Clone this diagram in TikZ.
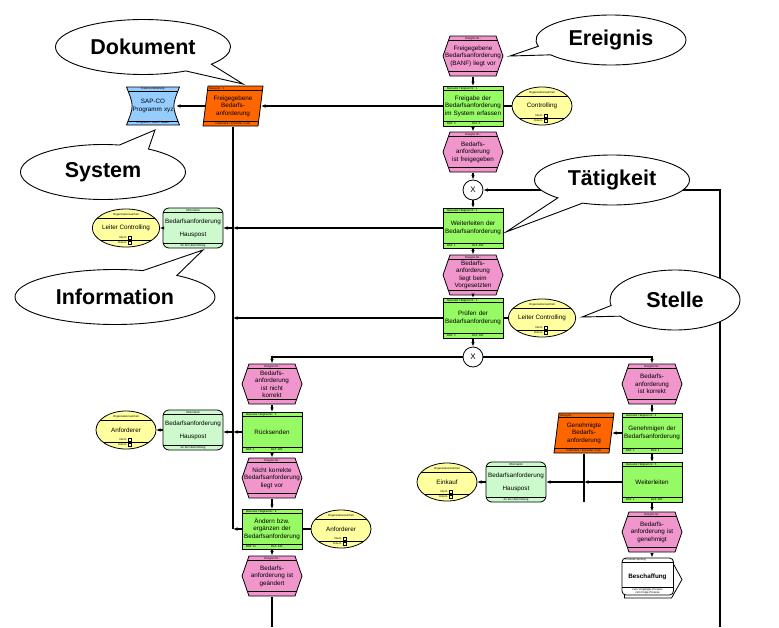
\documentclass[tikz,border=0pt]{standalone}
\usepackage{fontspec}
\setmainfont{Liberation Sans}
\usetikzlibrary{shapes.geometric, shapes.callouts, arrows.meta}

\definecolor{epink}{RGB}{240,150,205}
\definecolor{fgreen}{RGB}{150,250,100}
\definecolor{oyellow}{RGB}{255,255,160}
\definecolor{igreen}{RGB}{205,250,205}
\definecolor{dorange}{RGB}{255,102,0}
\definecolor{sblue}{RGB}{150,205,255}

\newcommand{\ppb}{path picture bounding box}
\newcommand{\mainfnt}{\fontsize{6.3}{7.5}\selectfont}
\newcommand{\tinyfnt}{\fontsize{2.8}{3.2}\selectfont}

\tikzset{
  tinytext/.style={font=\tinyfnt, shape=rectangle, inner sep=0pt, outer sep=0pt,
    minimum width=0pt, minimum height=0pt, text width={}, align=center},
  basis/.style={minimum width=60pt, minimum height=40pt, inner sep=0pt, outer sep=0pt,
    align=center, font=\mainfnt, text width=58pt},
  bands/.style={line width=.6pt, sharp corners},
  ereignis/.style={basis, minimum width=61pt, minimum height=41pt,
    path picture={
      \coordinate (h1) at ([xshift=7.5pt,yshift=-.5pt]\ppb.north west);
      \coordinate (h2) at ([xshift=-7.5pt,yshift=-.5pt]\ppb.north east);
      \coordinate (h3) at ([xshift=-.5pt]\ppb.east);
      \coordinate (h4) at ([xshift=-7.5pt,yshift=.5pt]\ppb.south east);
      \coordinate (h5) at ([xshift=7.5pt,yshift=.5pt]\ppb.south west);
      \coordinate (h6) at ([xshift=.5pt]\ppb.west);
      \filldraw[fill=epink, line width=.8pt] (h1) -- (h2) -- (h3) -- (h4) -- (h5) -- (h6) -- cycle;
      \clip (h1) -- (h2) -- (h3) -- (h4) -- (h5) -- (h6) -- cycle;
      \draw[bands] ([yshift=-5pt]\ppb.north west) -- ([yshift=-5pt]\ppb.north east)
        ([yshift=5pt]\ppb.south west) -- ([yshift=5pt]\ppb.south east);
      \node[tinytext] at ([yshift=-2.9pt]\ppb.north) {Ereignis Nr.:};
    }},
  funktion/.style n args={3}{basis, draw, line width=.8pt, fill=fgreen,
    path picture={
      \draw[bands] ([yshift=-4.5pt]\ppb.north west) -- ([yshift=-4.5pt]\ppb.north east)
        ([yshift=4.5pt]\ppb.south west) -- ([yshift=4.5pt]\ppb.south east);
      \node[tinytext, anchor=west] at ([xshift=4pt,yshift=-2.4pt]\ppb.north west) {Manuelle Tätigkeit Nr.: #1};
      \node[tinytext, anchor=west] at ([xshift=4pt,yshift=2.4pt]\ppb.south west) {BAZ: #2};
      \node[tinytext, anchor=west] at ([xshift=-1pt,yshift=2.4pt]\ppb.south) {DLZ: #3};
    }},
  orgeinheit/.style={ellipse, draw, line width=.8pt, fill=oyellow, minimum width=60pt,
    minimum height=38pt, inner sep=0pt, outer sep=0pt, font=\mainfnt,
    path picture={
      \draw[bands] ([yshift=-9pt]\ppb.north west) -- ([yshift=-9pt]\ppb.north east)
        ([yshift=7pt]\ppb.south west) -- ([yshift=7pt]\ppb.south east);
      \node[tinytext] at ([yshift=-6pt]\ppb.north) {Organisationseinheit};
      \node[tinytext, anchor=east] at ([xshift=.5pt,yshift=9.2pt]\ppb.south) {Intern};
      \node[tinytext, anchor=east] at ([xshift=.5pt,yshift=4.3pt]\ppb.south) {Extern};
      \draw[line width=.5pt] ([xshift=2.5pt,yshift=7.7pt]\ppb.south) rectangle ++(3.2pt,3.2pt)
        ([xshift=2.5pt,yshift=2.6pt]\ppb.south) rectangle ++(3.2pt,3.2pt);
    }},
  information/.style={basis, draw, line width=.8pt, fill=igreen, rounded corners=6pt,
    path picture={
      \draw[bands] ([yshift=-4.5pt]\ppb.north west) -- ([yshift=-4.5pt]\ppb.north east)
        ([yshift=4.5pt]\ppb.south west) -- ([yshift=4.5pt]\ppb.south east);
      \node[tinytext] at ([yshift=-2.4pt]\ppb.north) {Information};
      \node[tinytext] at ([yshift=2.4pt]\ppb.south) {An der Übermittlung};
    }},
  dokument/.style={basis, minimum width=61pt, minimum height=41pt, text width=56pt,
    path picture={
      \coordinate (d1) at ([xshift=5.5pt,yshift=-.5pt]\ppb.north west);
      \coordinate (d2) at ([xshift=-.5pt,yshift=-.5pt]\ppb.north east);
      \coordinate (d3) at ([xshift=-5.5pt,yshift=.5pt]\ppb.south east);
      \coordinate (d4) at ([xshift=.5pt,yshift=.5pt]\ppb.south west);
      \filldraw[fill=dorange, line width=.8pt] (d1) -- (d2) -- (d3) -- (d4) -- cycle;
      \clip (d1) -- (d2) -- (d3) -- (d4) -- cycle;
      \draw[bands] ([yshift=-5pt]\ppb.north west) -- ([yshift=-5pt]\ppb.north east)
        ([yshift=5pt]\ppb.south west) -- ([yshift=5pt]\ppb.south east);
      \node[tinytext, anchor=west] at ([xshift=7pt,yshift=-2.8pt]\ppb.north west) {Beleg Nr.: #1};
      \node[tinytext] at ([yshift=2.8pt]\ppb.south) {Dokument / Formular / Liste};
    }},
  system/.style={basis, minimum width=54pt, minimum height=39pt, text width=50pt,
    path picture={
      \coordinate (s1) at ([xshift=.5pt,yshift=-.5pt]\ppb.north west);
      \coordinate (s2) at ([xshift=-.5pt,yshift=-.5pt]\ppb.north east);
      \coordinate (s3) at ([xshift=-.5pt,yshift=.5pt]\ppb.south east);
      \coordinate (s4) at ([xshift=.5pt,yshift=.5pt]\ppb.south west);
      \filldraw[fill=sblue, line width=.8pt] (s1) -- (s2) .. controls ([xshift=-8pt]\ppb.east) .. (s3)
        -- (s4) .. controls ([xshift=8pt]\ppb.west) .. (s1) -- cycle;
      \draw[bands] ([xshift=2pt,yshift=-4.5pt]\ppb.north west) -- ([xshift=-2pt,yshift=-4.5pt]\ppb.north east)
        ([xshift=2pt,yshift=4.5pt]\ppb.south west) -- ([xshift=-2pt,yshift=4.5pt]\ppb.south east);
      \node[tinytext] at ([yshift=-2.5pt]\ppb.north) {Datenverarbeitung};
      \node[tinytext] at ([yshift=2.5pt]\ppb.south) {Programm / Datei / Maske};
    }},
  prozess/.style={basis, minimum width=61pt, minimum height=41pt,
    path picture={
      \filldraw[fill=white, line width=.8pt] ([xshift=3pt,yshift=-3pt]\ppb.north west)
        -- ([xshift=-11pt,yshift=-3pt]\ppb.north east) -- ([xshift=-.5pt,yshift=-1.5pt]\ppb.east)
        -- ([xshift=-11pt,yshift=.5pt]\ppb.south east) -- ([xshift=3pt,yshift=.5pt]\ppb.south west) -- cycle;
      \filldraw[fill=white, line width=.8pt, rounded corners=4pt] ([xshift=.5pt,yshift=-.5pt]\ppb.north west)
        rectangle ([xshift=-9pt,yshift=3.5pt]\ppb.south east);
      \draw[bands] ([xshift=.5pt,yshift=-5pt]\ppb.north west) -- ([xshift=-9pt,yshift=-5pt]\ppb.north east)
        ([xshift=.5pt,yshift=11pt]\ppb.south west) -- ([xshift=-9pt,yshift=11pt]\ppb.south east);
      \node[tinytext, anchor=west] at ([xshift=4pt,yshift=-2.6pt]\ppb.north west) {Prozess-Sprung};
      \node[tinytext, font=\fontsize{6.3}{7.5}\selectfont\bfseries] at ([xshift=-4.5pt,yshift=1pt]\ppb.center) {#1};
      \node[tinytext] at ([xshift=-4.5pt,yshift=7.3pt]\ppb.south) {zum Vorgänger-Prozess\\zum Folge-Prozess};
    }},
  xor/.style={circle, draw, line width=.8pt, fill=white, minimum size=20pt, inner sep=0pt,
    font=\fontsize{8}{9}\selectfont},
  flow/.style={line width=1.1pt, -{Latex[length=4.5pt,width=3.5pt]}},
  link/.style={line width=1.1pt},
  bubble/.style={ellipse callout, draw, fill=white, line width=.9pt, inner sep=0pt,
    callout pointer arc=22, font=\fontsize{21.5}{24}\selectfont\bfseries}
}

\begin{document}
\begin{tikzpicture}[x=1pt, y=1pt]
\useasboundingbox (0,0) rectangle (779,-627);

% Hauptkette
\node[ereignis] (E1) at (473,-56) {Freigegebene\\Bedarfsanforderung\\(BANF) liegt vor};
\node[funktion={1}{5}{5}] (F1) at (473,-106) {Freigabe der\\Bedarfsanforderung\\im System erfassen};
\node[orgeinheit] (O1) at (542,-106) {Controlling};
\node[ereignis] (E2) at (473,-152) {Bedarfs-\\anforderung\\ist freigegeben};
\node[xor] (X1) at (473,-190) {X};
\node[funktion={2}{1}{480}] (F2) at (473,-228) {Weiterleiten der\\Bedarfsanforderung};
\node[ereignis] (E3) at (473,-275) {Bedarfs-\\anforderung\\liegt beim\\Vorgesetzten};
\node[funktion={3}{2}{180}] (F3) at (473,-318) {Prüfen der\\Bedarfsanforderung};
\node[orgeinheit] (O2) at (542,-318) {Leiter Controlling};
\node[xor] (X2) at (473,-357) {X};

% Dokument, System, Informationen links
\node[dokument=1] (D1) at (233,-106) {Freigegebene\\Bedarfs-\\anforderung};
\node[system] (S1) at (153,-106) {SAP-CO\\Programm xyz};
\node[information] (I1) at (193,-228) {Bedarfsanforderung\\[5.5pt]Hauspost};
\node[orgeinheit] (O4) at (126,-228) {Leiter Controlling};
\node[information] (I2) at (193,-430) {Bedarfsanforderung\\[5.5pt]Hauspost};
\node[orgeinheit] (O6) at (126,-430) {Anforderer};

% Zweig: nicht korrekt
\node[ereignis] (E4) at (272,-384) {Bedarfs-\\anforderung\\ist nicht\\korrekt};
\node[funktion={5}{1}{480}] (F4) at (272,-432) {Rücksenden};
\node[ereignis] (E5) at (272,-478) {Nicht korrekte\\Bedarfsanforderung\\liegt vor};
\node[funktion={6}{11}{240}] (F5) at (272,-529) {Ändern bzw.\\ergänzen der\\Bedarfsanforderung};
\node[orgeinheit] (O5) at (341,-529) {Anforderer};
\node[ereignis] (E6) at (272,-576) {Bedarfs-\\anforderung ist\\geändert};

% Zweig: korrekt
\node[ereignis] (E7) at (652,-384) {Bedarfs-\\anforderung\\ist korrekt};
\node[funktion={4}{1}{1}] (F6) at (652,-433) {Genehmigen der\\Bedarfsanforderung};
\node[dokument={}] (D2) at (584,-433) {Genehmigte\\Bedarfs-\\anforderung};
\node[funktion={5}{1}{480}] (F7) at (652,-482) {Weiterleiten};
\node[information] (I3) at (516,-482) {Bedarfsanforderung\\[5.5pt]Hauspost};
\node[orgeinheit] (O3) at (447,-482) {Einkauf};
\node[ereignis] (E8) at (652,-532) {Bedarfs-\\anforderung ist\\genehmigt};
\node[prozess=Beschaffung] (P1) at (652,-578) {};

\coordinate (rbEnd) at (584,-502);
\coordinate (loopEnd) at (720,-627);
\coordinate (downEnd) at (272,-627);

% Kontrollfluss
\draw[flow] (E1) -- (F1);
\draw[flow] (F1) -- (E2);
\draw[flow] (E2) -- (X1);
\draw[flow] (X1) -- (F2);
\draw[flow] (F2) -- (E3);
\draw[flow] (E3) -- (F3);
\draw[flow] (F3) -- (X2);
\draw[flow] (X2) -| (E4);
\draw[flow] (X2) -| (E7);
\draw[flow] (E4) -- (F4);
\draw[flow] (F4) -- (E5);
\draw[flow] (E5) -- (F5);
\draw[flow] (F5) -- (E6);
\draw[link] (E6) -- (downEnd);
\draw[flow] (loopEnd) |- (X1);
\draw[flow] (E7) -- (F6);
\draw[flow] (F6) -- (F7);
\draw[flow] (F7) -- (E8);
\draw[flow] (E8) -- (P1);

% Organisationseinheiten
\draw[link] (F1) -- (O1);
\draw[link] (F3) -- (O2);
\draw[link] (F5) -- (O5);

% Informationsfluss
\draw[flow] (F1) -- ([xshift=-2.5pt]D1.east);
\draw[flow] ([xshift=2.5pt]D1.west) -- ([xshift=-4pt]S1.east);
\draw[link] (D1.south) -- (D1.south |- F5.west);
\draw[flow] (F2) -- (F2 -| D1);
\draw[flow] (F2 -| D1) -- (F2 -| I1.east);
\draw[flow] (F3) -- (F3 -| D1);
\draw[flow] (F4) -- (F4 -| D1);
\draw[flow] (F4 -| D1) -- (F4 -| I2.east);
\draw[flow] (F5) -- (F5 -| D1);
\draw[flow] (I1) -- (O4);
\draw[flow] (I2) -- (O6);
\draw[flow] (F6) -- ([xshift=-2.5pt]D2.east);
\draw[link] (D2) -- (rbEnd);
\draw[flow] (F7) -- (F7 -| D2);
\draw[flow] (F7 -| D2) -- (F7 -| I3.east);
\draw[flow] (I3) -- (O3);

% Sprechblasen
\node[bubble, minimum width=175pt, minimum height=55pt, callout absolute pointer={(243,-84)}] (cDok) at (143,-47) {Dokument};
\node[bubble, minimum width=150pt, minimum height=50pt, callout absolute pointer={(510,-56)}] (cEre) at (611,-40) {Ereignis};
\node[bubble, minimum width=165pt, minimum height=55pt, callout absolute pointer={(155,-130)}] (cSys) at (103,-172) {System};
\node[bubble, minimum width=155pt, minimum height=50pt, callout absolute pointer={(506,-232)}] (cTat) at (612,-180) {Tätigkeit};
\node[bubble, minimum width=200pt, minimum height=55pt, callout absolute pointer={(203,-250)}] (cInf) at (115,-297) {Information};
\node[bubble, minimum width=130pt, minimum height=60pt, callout absolute pointer={(582,-317)}] (cSte) at (675,-300) {Stelle};
\end{tikzpicture}
\end{document}
